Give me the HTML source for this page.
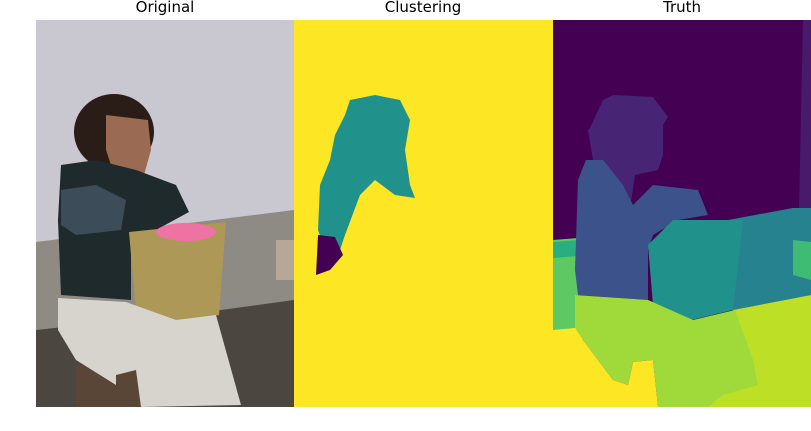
<!DOCTYPE html>
<html><head><meta charset="utf-8"><style>
html,body{margin:0;padding:0;background:#fff;width:811px;height:431px;overflow:hidden}
svg text{font-family:"DejaVu Sans","Liberation Sans",sans-serif;font-size:15px;fill:#000}
</style></head><body>
<svg width="811" height="431" viewBox="0 0 811 431">
<text x="165" y="12" text-anchor="middle">Original</text>
<text x="423" y="12" text-anchor="middle">Clustering</text>
<text x="682" y="12" text-anchor="middle">Truth</text>

<g transform="translate(36,20)">
<rect width="258" height="387" fill="#c9c8d0"/>
<polygon points="0,222 258,190 258,387 0,387" fill="#8e8a84"/>
<polygon points="0,310 185,290 258,280 258,387 0,387" fill="#4c4640"/>
<polygon points="40,345 105,345 105,387 40,387" fill="#5a4636"/>
<ellipse cx="78" cy="112" rx="40" ry="38" fill="#2a1c16"/>
<polygon points="70,95 112,100 115,130 108,155 80,160 70,130" fill="#9a6a52"/>
<polygon points="25,145 60,140 100,150 140,165 153,192 120,210 95,215 95,280 25,275 22,200" fill="#1f2a2c"/>
<polygon points="25,170 60,165 90,180 85,210 40,215 25,205" fill="#3c4c58"/>
<polygon points="93,212 190,202 183,295 140,302 100,292" fill="#ad9858"/>
<ellipse cx="150" cy="212" rx="30" ry="9" fill="#ee72a2"/>
<polygon points="22,278 90,282 140,300 180,295 205,385 105,387 100,350 80,355 80,365 40,340 22,310" fill="#d6d4cc"/>
<rect x="240" y="220" width="18" height="40" fill="#b5a898"/>
</g>

<g transform="translate(294,20)">
<rect width="259" height="387" fill="#fde725"/>
<polygon points="56,80 81,75 106,80 116,100 111,130 116,165 121,178 101,175 81,160 66,175 51,215 46,230 31,230 24,210 26,165 36,140 41,115 51,95" fill="#21918c"/>
<polygon points="24,215 41,217 49,235 36,250 22,255" fill="#440154"/>
</g>

<g transform="translate(553,20)">
<rect width="258" height="387" fill="#440154"/>
<polygon points="250,0 258,0 258,190 246,190" fill="#481a6c"/>
<polygon points="0,220 25,218 25,310 0,310" fill="#5ec962"/>
<polygon points="0,222 25,220 25,236 0,238" fill="#29af7f"/>
<polygon points="37,108 50,80 60,75 100,77 115,97 110,105 110,135 105,150 82,155 78,182 70,165 40,140 35,110" fill="#482475"/>
<polygon points="25,160 33,140 50,140 70,165 80,185 100,165 145,170 155,195 125,200 100,215 95,230 95,280 25,275 22,250" fill="#3b528b"/>
<polygon points="175,200 240,188 258,188 258,275 180,290" fill="#26828e"/>
<polygon points="240,220 258,222 258,260 240,255" fill="#3fbc73"/>
<polygon points="95,225 120,200 190,200 180,290 130,302 100,285" fill="#21918c"/>
<polygon points="180,290 258,275 258,387 155,387" fill="#bddf26"/>
<polygon points="22,275 95,280 140,300 182,290 200,340 205,365 170,375 155,387 105,387 100,340 80,342 75,365 60,360 30,320 22,310" fill="#9fda3a"/>
<polygon points="0,310 22,308 30,320 60,360 75,365 80,342 100,340 105,387 0,387" fill="#fde725"/>
</g>
</svg>
</body></html>
